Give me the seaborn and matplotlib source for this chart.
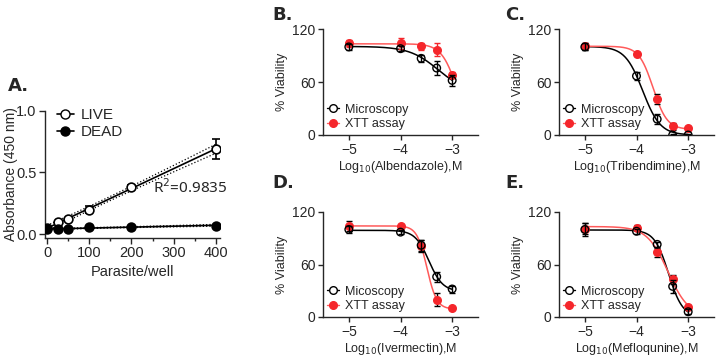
import numpy as np
import pandas as pd
import seaborn as sns
import matplotlib.pyplot as plt
from matplotlib.ticker import MultipleLocator
from matplotlib.lines import Line2D

# panel A: absorbance vs parasites per well
parasites = [0, 25, 50, 100, 200, 400]
live_abs = [0.05, 0.10, 0.12, 0.20, 0.38, 0.69]
live_err = [0.01, 0.01, 0.01, 0.03, 0.02, 0.08]
dead_abs = [0.04, 0.04, 0.045, 0.06, 0.06, 0.07]
dead_err = [0.005, 0.005, 0.005, 0.005, 0.005, 0.005]
n_rep = 3

# panels B-E: viability vs log10 dose
log_dose = [-5, -4, -3.6, -3.3, -3]
drugs = ['Albendazole', 'Tribendimine', 'Ivermectin', 'Mefloqunine']
micro_labels = ['Microscopy', 'Microscopy', 'Micoscopy', 'Microscopy']
micro_via = [[100, 98, 87, 76, 62],
             [100, 67, 18, 0, 0],
             [100, 97, 82, 46, 32],
             [100, 98, 83, 35, 6]]
micro_err = [[3, 3, 4, 8, 6],
             [4, 5, 6, 1, 1],
             [4, 2, 6, 6, 4],
             [7, 3, 3, 7, 3]]
xtt_via = [[104, 104, 101, 97, 68],
           [101, 92, 41, 10, 8],
           [104, 104, 81, 20, 10],
           [101, 102, 74, 43, 12]]
xtt_err = [[4, 6, 4, 7, 3],
           [4, 1, 6, 4, 1],
           [6, 1, 7, 7, 1],
           [6, 3, 5, 5, 2]]

RED = '#F5262B'
RED_LINE = '#FF5A5A'

sns.set_style('ticks')
plt.rcParams['font.family'] = ['Liberation Sans', 'DejaVu Sans']


def fit_4pl(x, y):
    # crude 4PL fit: grid over ic50/hill, linear solve for top/bottom
    x = np.asarray(x, float)
    y = np.asarray(y, float)
    best = None
    for ic in np.linspace(-5.5, -2.0, 351):
        for h in np.linspace(0.5, 8, 151):
            s = 1.0 / (1.0 + 10 ** ((x - ic) * h))
            A = np.column_stack([s, 1 - s])
            coef, *_ = np.linalg.lstsq(A, y, rcond=None)
            top, bot = coef
            bot = max(bot, 0.0)
            r = np.sum((top * s + bot * (1 - s) - y) ** 2)
            if best is None or r < best[0]:
                best = (r, top, bot, ic, h)
    _, top, bot, ic, h = best
    xs = np.linspace(-5, -3, 200)
    ys = bot + (top - bot) / (1 + 10 ** ((xs - ic) * h))
    return xs, ys


def lin_fit_band(x, y, err, xs):
    # linear fit on replicate means, pooled variance incl. replicate sd
    x = np.asarray(x, float)
    y = np.asarray(y, float)
    err = np.asarray(err, float)
    p = np.polyfit(x, y, 1)
    res = y - np.polyval(p, x)
    N = n_rep * len(x)
    sig2 = (n_rep * np.sum(res ** 2) + (n_rep - 1) * np.sum(err ** 2)) / (N - 2)
    sxx = n_rep * np.sum((x - x.mean()) ** 2)
    se = np.sqrt(sig2 / N + (xs - x.mean()) ** 2 * sig2 / sxx)
    return np.polyval(p, xs), 2.12 * se


W, H = 722, 357
fig = plt.figure(figsize=(W / 100, H / 100), dpi=100)


def add_ax(l, t, r, b):
    return fig.add_axes([l / W, 1 - b / H, (r - l) / W, (b - t) / H])


# ---- panel A
axA = add_ax(45, 110.7, 220, 238)
xa = np.array(parasites, float)
xs = np.linspace(0, 400, 100)
for vals, errs, face in [(live_abs, live_err, 'white'), (dead_abs, dead_err, 'black')]:
    fit, band = lin_fit_band(xa, vals, errs, xs)
    sns.lineplot(x=xs, y=fit, ax=axA, color='black', lw=1.2)
    axA.plot(xs, fit + band, ls=':', color='black', lw=0.9)
    axA.plot(xs, fit - band, ls=':', color='black', lw=0.9)
    axA.errorbar(xa, vals, yerr=errs, fmt='none', ecolor='black', elinewidth=1.2,
                 capsize=3, capthick=1.2)
    sns.scatterplot(x=xa, y=vals, ax=axA, s=40, color=face, edgecolor='black',
                    linewidth=1.2, zorder=5)
axA.set_xlim(-5, 410)
axA.set_ylim(-0.03, 1.0)
axA.set_xticks([0, 100, 200, 300, 400])
axA.xaxis.set_minor_locator(MultipleLocator(50))
axA.set_yticks([0.0, 0.5, 1.0])
axA.set_yticklabels(['0.0', '0.5', '1.0'])
axA.tick_params(labelsize=10.5, width=1, length=4, pad=2)
axA.tick_params(which='minor', length=2.5, width=1)
axA.set_xlabel('Parasite/well', fontsize=10.5, labelpad=3)
axA.set_ylabel('Absorbance (450 nm)', fontsize=10)
axA.yaxis.set_label_coords(-0.155, 0.5)
axA.text(252, 0.38, 'R$^2$=0.9835', fontsize=11, va='center',
         family=['Noto Sans', 'DejaVu Sans'])
hA = [Line2D([], [], color='black', marker='o', mfc='white', mec='black', ms=6.5, lw=1.2),
      Line2D([], [], color='black', marker='o', mfc='black', mec='black', ms=6.5, lw=1.2)]
axA.legend(hA, ['LIVE', 'DEAD'], loc='upper left', bbox_to_anchor=(-0.01, 1.13),
           frameon=False, fontsize=11, handlelength=1.1, handletextpad=0.45,
           labelspacing=0.2)
for s in ['left', 'bottom']:
    axA.spines[s].set_linewidth(1)
sns.despine(ax=axA)

# ---- panels B-E
boxes = [(323, 29.3, 478, 135), (559, 29.3, 714, 135),
         (323, 212, 478, 317), (559, 212, 714, 317)]
for i, box in enumerate(boxes):
    ax = add_ax(*box)
    xd = np.array(log_dose)
    xs, ys = fit_4pl(xd, micro_via[i])
    sns.lineplot(x=xs, y=ys, ax=ax, color='black', lw=1.1)
    xs, ys = fit_4pl(xd, xtt_via[i])
    sns.lineplot(x=xs, y=ys, ax=ax, color=RED_LINE, lw=1.1)
    ecol = RED if i == 0 else 'black'
    ax.errorbar(xd, xtt_via[i], yerr=xtt_err[i], fmt='none', ecolor=ecol,
                elinewidth=1, capsize=2.5, capthick=1, zorder=3)
    sns.scatterplot(x=xd, y=xtt_via[i], ax=ax, s=30, color=RED, edgecolor=RED,
                    linewidth=1, zorder=4)
    ax.errorbar(xd, micro_via[i], yerr=micro_err[i], fmt='none', ecolor='black',
                elinewidth=1, capsize=2.5, capthick=1, zorder=5)
    sns.scatterplot(x=xd, y=micro_via[i], ax=ax, s=30, color='none',
                    edgecolor='black', linewidth=1, zorder=6)
    ax.set_xlim(-5.5, -2.5)
    ax.set_ylim(0, 120)
    ax.set_xticks([-5, -4, -3])
    ax.set_yticks([0, 60, 120])
    ax.tick_params(labelsize=10, width=1, length=3.5, pad=2)
    ax.set_xlabel('Log$_{10}$(' + drugs[i] + '),M', fontsize=9, labelpad=2)
    ax.set_ylabel('% Viability', fontsize=9, labelpad=3)
    hh = [Line2D([], [], color='black', marker='o', mfc='white', mec='black', ms=5.5, lw=1),
          Line2D([], [], color=RED_LINE, marker='o', mfc=RED, mec=RED, ms=5.5, lw=1)]
    ax.legend(hh, [micro_labels[i], 'XTT assay'], loc='lower left',
              bbox_to_anchor=(-0.05, -0.06), frameon=False, fontsize=9,
              handlelength=1.0, handletextpad=0.5, labelspacing=0.2)
    for s in ['left', 'bottom']:
        ax.spines[s].set_linewidth(1)
    sns.despine(ax=ax)

lab_font = dict(fontsize=13, fontweight='bold', family='DejaVu Sans',
                va='center', ha='left')
fig.text(8 / W, 1 - 86 / H, 'A.', **lab_font)
fig.text(272 / W, 1 - 15 / H, 'B.', **lab_font)
fig.text(505 / W, 1 - 15 / H, 'C.', **lab_font)
fig.text(272 / W, 1 - 183 / H, 'D.', **lab_font)
fig.text(505 / W, 1 - 183 / H, 'E.', **lab_font)

fig.savefig('out.png', dpi=100)
